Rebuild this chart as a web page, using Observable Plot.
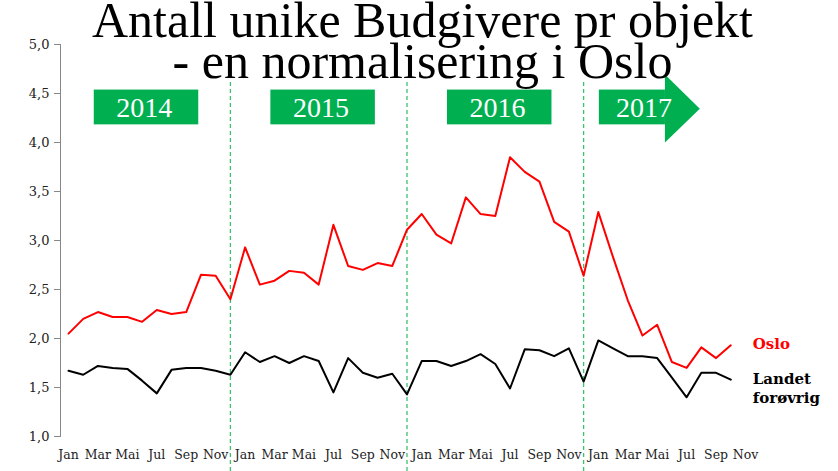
<!DOCTYPE html>
<html>
<head>
<meta charset="utf-8">
<script src="https://cdn.jsdelivr.net/npm/d3@7"></script>
<script src="https://cdn.jsdelivr.net/npm/@observablehq/plot@0.6"></script>
<style>
  body { margin: 0; background: #fff; }
  #wrap { position: relative; width: 838px; height: 471px; }
  #title { position: absolute; top: 0px; left: 0; width: 838px; padding-left: 7px; box-sizing: border-box;
    text-align: center; font-family: "Liberation Serif", serif; font-size: 50px; line-height: 41px; color: #000; pointer-events: none; }
</style>
</head>
<body>
<div id="wrap">
  <div id="chart"></div>
  <div id="title">Antall unike Budgivere pr objekt<br>- en normalisering i Oslo</div>
</div>
<script>
const monthNames = ["Jan","Feb","Mar","Apr","Mai","Jun","Jul","Aug","Sep","Okt","Nov","Des"];
const years = ["2014","2015","2016","2017"];
const oslo = [2.05,2.20,2.27,2.22,2.22,2.17,2.29,2.25,2.27,2.65,2.64,2.40,
              2.93,2.55,2.59,2.69,2.67,2.55,3.16,2.74,2.70,2.77,2.74,3.11,
              3.27,3.06,2.97,3.44,3.27,3.25,3.85,3.70,3.60,3.19,3.09,2.64,
              3.29,2.83,2.39,2.03,2.14,1.76,1.70,1.91,1.80,1.93];
const landet = [1.67,1.63,1.72,1.70,1.69,1.57,1.44,1.68,1.70,1.70,1.67,1.63,
                1.86,1.76,1.82,1.75,1.82,1.77,1.45,1.80,1.65,1.60,1.64,1.43,
                1.77,1.77,1.72,1.77,1.84,1.74,1.49,1.89,1.88,1.82,1.90,1.56,
                1.98,1.90,1.82,1.82,1.80,1.60,1.40,1.65,1.65,1.58];
const yTicks = [1,1.5,2,2.5,3,3.5,4,4.5,5];
const xTicks = d3.range(0, 47, 2);
const yearEnds = [11, 23, 35];

const osloData = oslo.map((v, i) => ({i, v}));
const landetData = landet.map((v, i) => ({i, v}));
// year banners (in month-index / value units)
const boxes = years.slice(0, 3).map((y, k) => ({y, x1: 12*k + 1.75, x2: 12*k + 8.85, xc: 12*k + 5.15}));
const arrowBody = [{x1: 36.07, x2: 40.56}];
const arrowHead = [{x: 40.56, y1: 3.995, y2: 4.69}, {x: 42.93, y1: 4.34, y2: 4.34}];
const green = "#00b050";
const serif = "DejaVu Serif, serif";

const chart = Plot.plot({
  width: 838, height: 471,
  marginLeft: 60, marginRight: 93, marginTop: 44, marginBottom: 35,
  style: {fontFamily: serif, fontSize: "12.5px", color: "#222", background: "#fff"},
  x: {domain: [0, 46], insetLeft: 8},
  y: {domain: [1, 5]},
  marks: [
    Plot.frame({anchor: "left", stroke: "#888"}),
    Plot.axisY({ticks: yTicks, tickSize: 6, tickPadding: 5, stroke: "#888",
      tickFormat: d => d.toFixed(1).replace(".", ","), fontSize: 13, fill: "#222", label: null}),
    Plot.axisX({ticks: xTicks, tickSize: 0, tickPadding: 14,
      tickFormat: d => monthNames[d % 12], fontSize: 12.5, fill: "#222", label: null}),
    Plot.ruleX(yearEnds, {stroke: "#3cc26e", strokeWidth: 1.3, strokeDasharray: "4,3", insetTop: 38, insetBottom: -36}),
    Plot.rect(boxes, {x1: "x1", x2: "x2", y1: 4.18, y2: 4.535, fill: green}),
    Plot.text(boxes, {x: "xc", y: 4.35, text: "y", fill: "white", fontSize: 28, fontFamily: "Liberation Serif, serif"}),
    Plot.rect(arrowBody, {x1: "x1", x2: "x2", y1: 4.18, y2: 4.535, fill: green}),
    Plot.areaY(arrowHead, {x: "x", y1: "y1", y2: "y2", fill: green}),
    Plot.text([years[3]], {x: 39.1, y: 4.35, text: d => d, fill: "white", fontSize: 28, fontFamily: "Liberation Serif, serif"}),
    Plot.line(osloData, {x: "i", y: "v", stroke: "#ff0000", strokeWidth: 2}),
    Plot.line(landetData, {x: "i", y: "v", stroke: "#000", strokeWidth: 2}),
    Plot.text([osloData[osloData.length - 1]], {x: "i", y: "v", text: () => "Oslo", dx: 22, dy: -1,
      textAnchor: "start", fill: "#ff0000", fontWeight: "bold", fontSize: 15}),
    Plot.text([landetData[landetData.length - 1]], {x: "i", y: "v", text: () => "Landet\nforøvrig", dx: 22, dy: -10,
      lineAnchor: "top", lineHeight: 1.3, textAnchor: "start", fill: "#000", fontWeight: "bold", fontSize: 15})
  ]
});
document.getElementById("chart").appendChild(chart);
</script>
</body>
</html>
